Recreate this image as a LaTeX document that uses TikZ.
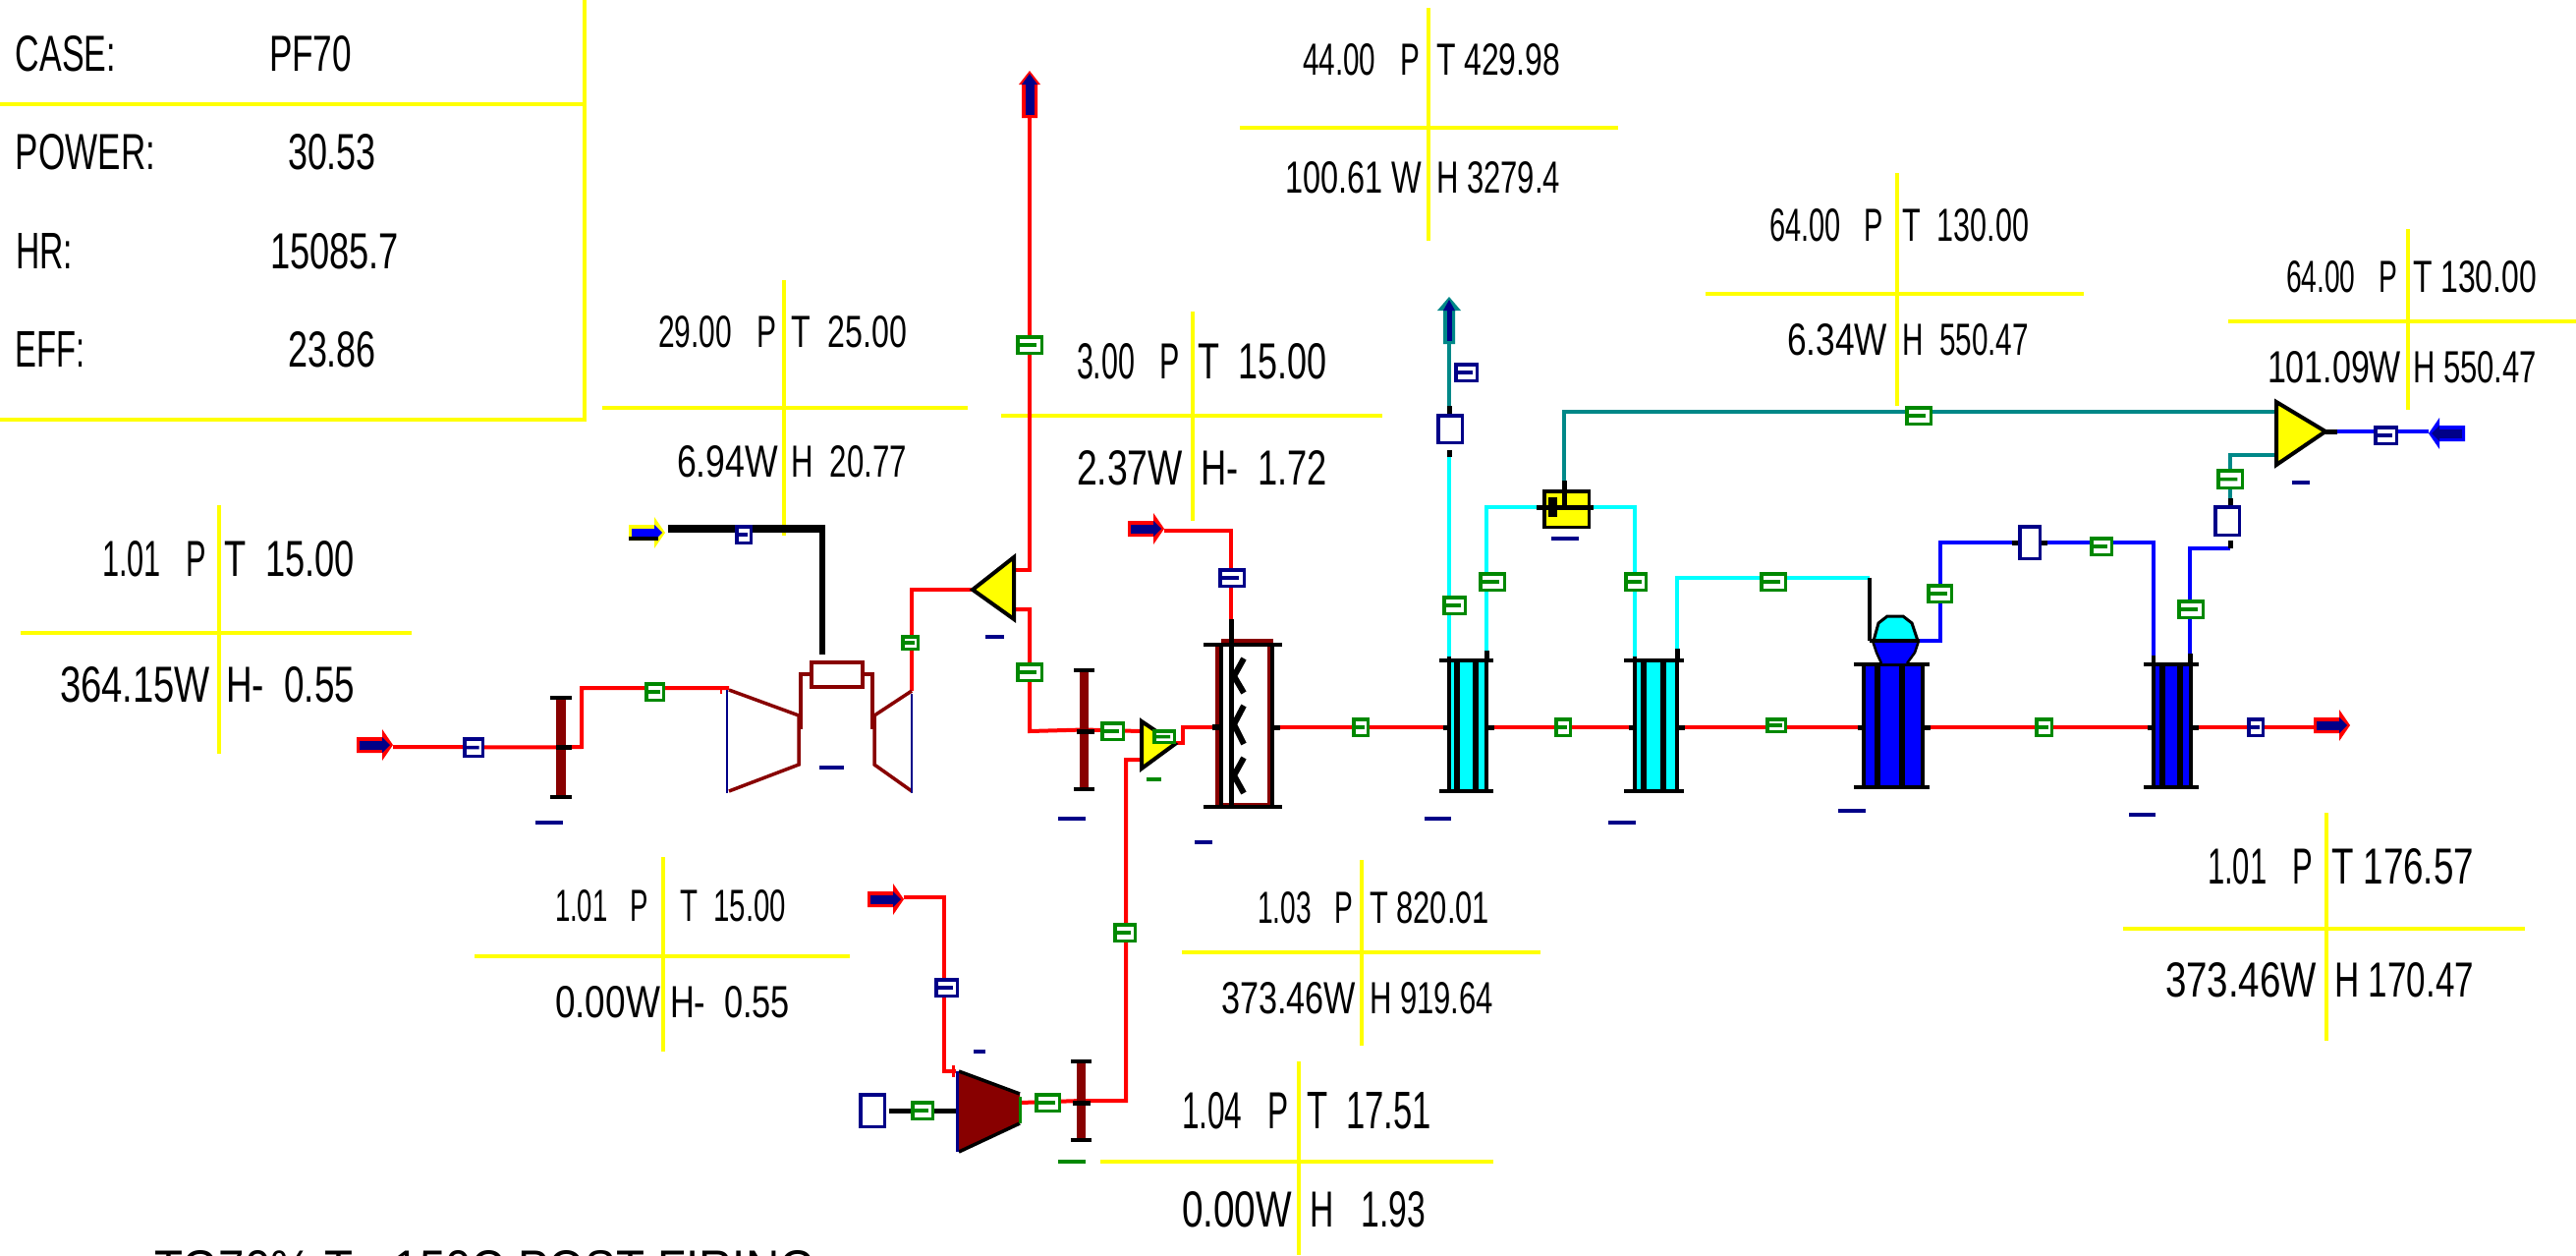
\documentclass[tikz,border=0pt]{standalone}
\usepackage{fontspec}
\setmainfont{Liberation Sans}
\usetikzlibrary{calc}
\definecolor{hred}{RGB}{255,0,0}
\definecolor{hdark}{RGB}{136,0,0}
\definecolor{hnavy}{RGB}{0,0,136}
\definecolor{hgreen}{RGB}{0,136,0}
\definecolor{hteal}{RGB}{0,136,136}
\definecolor{hcyan}{RGB}{0,255,255}
\definecolor{hblue}{RGB}{0,0,255}
\definecolor{hyellow}{RGB}{255,255,0}
\pgfdeclarelayer{background}
\pgfsetlayers{background,main}
\tikzset{
  rs/.style={draw=hred,line width=4pt},
  bs/.style={draw=hblue,line width=4pt},
  cs/.style={draw=hcyan,line width=4pt},
  ts/.style={draw=hteal,line width=4pt},
  ks/.style={draw=black,line width=5pt},
  xh/.style={draw=hyellow,line width=4pt},
  xv/.style={draw=hyellow,line width=3.5pt},
  bx/.style={inner sep=0pt,outer sep=0pt},
  tagbox/.style={bx,fill=white,line width=3.5pt},
  valvebox/.style={bx,fill=white,draw=hnavy,line width=3.5pt},
  dk/.style={draw=hdark,line width=3.5pt},
  blk/.style={draw=black,line width=3.5pt},
  thk/.style={draw=black,line width=6pt},
  tri/.style={fill=hyellow,draw=black,line width=4pt,line join=miter},
}
% outlined box given its outer edges
\newcommand\oboxat[6]{\pgfmathsetmacro\myw{(#5)-(#3)-3.5}\pgfmathsetmacro\myh{(#6)-(#4)-3.5}%
  \pgfmathsetmacro\myx{(#3+#5)/2}\pgfmathsetmacro\myy{(#4+#6)/2}%
  \node[#1,minimum width=\myw pt,minimum height=\myh pt] (#2) at (\myx,\myy) {};}
% borderless box
\newcommand\fboxat[6]{\pgfmathsetmacro\myw{(#5)-(#3)}\pgfmathsetmacro\myh{(#6)-(#4)}%
  \pgfmathsetmacro\myx{(#3+#5)/2}\pgfmathsetmacro\myy{(#4+#6)/2}%
  \node[bx,#1,minimum width=\myw pt,minimum height=\myh pt] (#2) at (\myx,\myy) {};}
% stream tag
\newcommand\mk[6]{\oboxat{tagbox,draw=#6}{#1}{#2}{#3}{#4}{#5}%
  \draw[line width=3.5pt,#6] (#1.west) -- ($(#1.west)!0.8!(#1.east)$);}
% short dash under equipment
\newcommand\dsh[5]{\fboxat{fill=#5}{#1}{#2}{#4-2}{#3}{#4+2}}
% text fitted to its extent
\newcommand\tx[6]{\pgfmathsetmacro\myw{#4-#2}\pgfmathsetmacro\myh{#5-#3}%
  \node[bx,anchor=north west] (#1) at (#2,#3) {\resizebox{\myw pt}{\myh pt}{#6}};}
% crosshair of a stream table
\newcommand\cross[6]{\draw[xh] (#1,#3) -- (#2,#3); \draw[xv] (#4,#5) -- (#4,#6);}
% flow arrow
\def\faL{37}\def\faH{8}\def\faF{16}\def\faD{11}
\newcommand\fa[7]{\begin{scope}[shift={(#2,#3)},rotate=#4]
  \coordinate (#1) at (0,0); \coordinate (#1t) at (-\faL,0);
  \fill[#5] (-\faL,#7-\faH) -- (-\faD,#7-\faH) -- (-\faD,#7-\faF) -- (0,#7) -- (-\faD,#7+\faF) -- (-\faD,#7+\faH) -- (-\faL,#7+\faH) -- cycle;
  \fill[#6] (-\faL+3,#7-\faH+3.5) rectangle (-\faD+3,#7+\faH-3.5);
  \fill[#6] (-\faD,#7-\faH) -- (-3,#7) -- (-\faD,#7+\faH) -- cycle;
  \end{scope}}
% filter bar
\newcommand\filt[5]{\fboxat{fill=hdark}{#1}{#2}{#4}{#3}{#5}%
  \draw[blk,line width=4pt] ($(#1.north west)+(-6,0)$) -- ($(#1.north east)+(6,0)$);
  \draw[blk,line width=4pt] ($(#1.south west)+(-6,0)$) -- ($(#1.south east)+(6,0)$);}
% heat exchanger
\def\hxfill{hcyan}
\newcommand\hx[9]{\fboxat{fill=\hxfill}{#1}{#6}{#4}{#7}{#5}%
  \coordinate (#1l) at (#6-6,740); \coordinate (#1r) at (#7+8,740);
  \draw[blk] (#6,#4) -- (#6,#5); \draw[blk] (#7,#4) -- (#7,#5);
  \draw[thk] (#8,#4) -- (#8,#5); \draw[thk] (#9,#4) -- (#9,#5);
  \draw[blk,line width=4.5pt] (#2,#4) -- (#3,#4); \draw[blk,line width=4.5pt] (#2,#5) -- (#3,#5);
  \draw[ks] (#6-6,740) -- (#6,740); \draw[ks] (#7,740) -- (#7+8,740);}
\begin{document}
\begin{tikzpicture}[x=1pt,y=-1pt]
\useasboundingbox (0,0) rectangle (2622,1277);

% ---- summary table text
\tx{tc1}{16}{36}{118}{72}{CASE:}
\tx{tc2}{274}{36}{358}{72}{PF70}
\tx{tp1}{16}{136}{158}{172}{POWER:}
\tx{tp2}{293}{136}{383}{172}{30.53}
\tx{th1}{16}{237}{74}{273}{HR:}
\tx{th2}{275}{237}{406}{273}{15085.7}
\tx{te1}{16}{337}{87}{373}{EFF:}
\tx{te2}{293}{337}{383}{373}{23.86}

% ---- stream tables
\tx{a1}{104}{550}{210}{586}{1.01~~~P}
\tx{a2}{228}{550}{361}{586}{T~~15.00}
\tx{a3}{61}{678}{214}{714}{364.15W}
\tx{a4}{230}{678}{361}{714}{H-~~0.55}
\tx{b1}{670}{321}{790}{353}{29.00~~~P}
\tx{b2}{805}{321}{923}{353}{T~~25.00}
\tx{b3}{689}{453}{792}{485}{6.94W}
\tx{b4}{805}{453}{923}{485}{H~~20.77}
\tx{c1}{1096}{349}{1201}{385}{3.00~~~P}
\tx{c2}{1219}{349}{1351}{385}{T~~15.00}
\tx{c3}{1096}{458}{1204}{493}{2.37W}
\tx{c4}{1222}{458}{1351}{493}{H-~~1.72}
\tx{e1}{1326}{44}{1445}{76}{44.00~~~P}
\tx{e2}{1462}{44}{1588}{76}{T 429.98}
\tx{e3}{1308}{164}{1447}{196}{100.61 W}
\tx{e4}{1462}{164}{1588}{196}{H 3279.4}
\tx{f1}{1801}{212}{1917}{245}{64.00~~~P}
\tx{f2}{1936}{212}{2065}{245}{T~~130.00}
\tx{f3}{1819}{329}{1921}{361}{6.34W}
\tx{f4}{1936}{329}{2065}{361}{H~~550.47}
\tx{g1}{2327}{265}{2440}{297}{64.00~~~P}
\tx{g2}{2456}{265}{2582}{297}{T 130.00}
\tx{g3}{2308}{357}{2444}{389}{101.09W}
\tx{g4}{2456}{357}{2582}{389}{H 550.47}
\tx{h1}{565}{905}{660}{937}{1.01~~~P}
\tx{h2}{692}{905}{800}{937}{T~~15.00}
\tx{h3}{565}{1003}{672}{1035}{0.00W}
\tx{h4}{682}{1003}{804}{1035}{H-~~0.55}
\tx{i1}{1280}{907}{1377}{939}{1.03~~~P}
\tx{i2}{1394}{907}{1516}{939}{T 820.01}
\tx{i3}{1243}{999}{1380}{1031}{373.46W}
\tx{i4}{1394}{999}{1520}{1031}{H 919.64}
\tx{j1}{1203}{1111}{1312}{1148}{1.04~~~P}
\tx{j2}{1330}{1111}{1457}{1148}{T~~17.51}
\tx{j3}{1203}{1212}{1315}{1248}{0.00W}
\tx{j4}{1333}{1212}{1451}{1248}{H~~~1.93}
\tx{k1}{2247}{863}{2354}{899}{1.01~~~P}
\tx{k2}{2373}{863}{2518}{899}{T 176.57}
\tx{k3}{2204}{979}{2358}{1014}{373.46W}
\tx{k4}{2376}{979}{2518}{1014}{H 170.47}
\begin{scope}
\clip (0,0) rectangle (2622,1277);
\tx{note}{157}{1272}{830}{1308}{TG70\%  T= 150C POST FIRING}
\end{scope}

% ---- arrows
\fa{ain}{400}{760}{0}{hred}{hnavy}{-2}
\fa{asteam}{677}{538}{0}{hyellow}{hblue}{4}
\fill[black] (640,546) rectangle (670,550);
\fa{aair}{1185}{540}{0}{hred}{hnavy}{-2}
\fa{afuel}{920}{913}{0}{hred}{hnavy}{2}
\fa{aout}{2392}{740}{0}{hred}{hnavy}{-2}
\fa{afw}{2472}{439}{180}{hblue}{hnavy}{-2}
\def\faL{48}\def\faF{11}\def\faD{14}
\fa{atop}{1048}{72}{90}{hred}{hnavy}{0}
\def\faH{6}\def\faF{12}
\fa{asb}{1475}{302}{90}{hteal}{hnavy}{0}
\def\faL{37}\def\faH{8}\def\faF{16}\def\faD{11}

% ---- inlet filters
\filt{f1}{566}{576}{710}{811}
\filt{f2}{1099}{1108}{682}{803}
\filt{f3}{1096}{1105}{1080}{1160}
\draw[ks] (566,760) -- (582,760);
\draw[ks] (1096,744) -- (1114,744);
\draw[ks] (1092,1122) -- (1110,1122);

% ---- gas turbine
\coordinate (cin) at (742,700);
\coordinate (tout) at (928,703);
\node[bx,draw=hdark,line width=4pt,minimum width=52pt,minimum height=25pt] (shaft) at (851.5,686) {};
\draw[dk] (742,702) -- (813,728) -- (813,778) -- (742,805);
\draw[dk] (shaft.west) -- (815,686) -- (815,742);
\draw[dk] (shaft.east) -- (888,686) -- (888,742);
\draw[dk] (890,728) -- (928,703);
\draw[dk] (890,728) -- (890,778) -- (928,805);
\draw[draw=hnavy,line width=2.5pt] (740,702) -- (740,807);
\draw[draw=hnavy,line width=2.5pt] (928,706) -- (928,807);
\draw[draw=hred,line width=2.5pt] (734,700) -- (734,706);

% ---- splitter and mixers
\coordinate (s1t) at (990,600); \coordinate (s1u) at (1032,580); \coordinate (s1d) at (1032,620);
\draw[tri] (s1t) -- (1032,567) -- (1032,630) -- cycle;
\coordinate (m1a) at (1161,744); \coordinate (m1b) at (1161,773); \coordinate (m1o) at (1196,756);
\draw[tri] (1162,734) -- (1162,782) -- (1196,757) -- cycle;
\coordinate (m2a) at (2315,419); \coordinate (m2b) at (2315,463); \coordinate (m2o) at (2379,439);
\draw[tri] (2317,409) -- (2317,473) -- (2367,439) -- cycle;
\draw[ks] (2367,439) -- (m2o);

% ---- combustor
\coordinate (cbtop) at (1253,630); \coordinate (cbw) at (1234,740); \coordinate (cbe) at (1303,740);
\fboxat{fill=white}{comb}{1240}{652}{1295}{819}
\draw[dk] (1239,654) -- (1239,819) -- (1292,819) -- (1292,654);
\fill[hdark] (1243,650) rectangle (1296,656);
\draw[blk] (1243,656) -- (1243,821); \draw[blk] (1295,656) -- (1295,821);
\draw[blk,line width=4pt] (1225,656) -- (1305,656); \draw[blk,line width=4pt] (1225,821) -- (1305,821);
\draw[ks] (cbtop) -- (1253,821);
\draw[thk] (1266,670) -- (1256,688) -- (1266,705);
\draw[thk] (1266,718) -- (1256,737) -- (1266,757);
\draw[thk] (1266,771) -- (1256,789) -- (1266,807);
\draw[ks,line width=6pt] (cbw) -- (1242,740); \draw[ks] (1296,740) -- (cbe);

% ---- heat exchangers
\def\hxfill{hcyan}
\hx{hxa}{1465}{1520}{672}{805}{1475}{1513}{1483}{1502}
\hx{hxb}{1653}{1714}{672}{805}{1664}{1707}{1673}{1693}
\def\hxfill{hblue}
\hx{hxc}{1887}{1964}{676}{801}{1897}{1957}{1911}{1936}
\hx{hxd}{2182}{2238}{676}{801}{2192}{2230}{2201}{2219}
\coordinate (ap) at (1475,668); \coordinate (aq) at (1513,668);
\coordinate (bp) at (1664,668); \coordinate (bq) at (1707,663);
\coordinate (dp) at (2192,667); \coordinate (dq) at (2229,667);
\draw[blk] (ap) -- (1475,672); \draw[ks] (1513,662) -- (1513,672);
\draw[blk] (bp) -- (1664,672); \draw[ks] (1707,660) -- (1707,672);
\draw[blk] (dp) -- (2192,676); \draw[ks] (2229,665) -- (2229,676);

% ---- deaerator
\oboxat{bx,fill=hyellow,draw=black,line width=3.5pt}{dea}{1570}{498}{1619}{538}
\coordinate (dw) at (1564,516); \coordinate (de) at (1622,516); \coordinate (dn) at (1592,489);
\draw[ks] (dw) -- (de); \draw[ks] (dn) -- (1592,514);
\fill[black] (1576,506) rectangle (1585,526);

% ---- drum
\coordinate (drin) at (1903,588); \coordinate (drk) at (1903,652); \coordinate (dro) at (1954,652);
\fill[hblue] (1906,652) -- (1953,652) -- (1949,664) -- (1941,675) -- (1915,675) -- (1910,664) -- cycle;
\draw[black,line width=2.5pt] (1906,652) -- (1910,664) -- (1915,675);
\draw[black,line width=2.5pt] (1953,652) -- (1949,664) -- (1941,675);
\fill[hcyan] (1907,652) -- (1912,634) -- (1921,627) -- (1937,627) -- (1946,634) -- (1952,652) -- cycle;
\draw[black,line width=3pt] (1907,652) -- (1912,634) -- (1921,627) -- (1937,627) -- (1946,634) -- (1952,652);
\draw[blk,line width=4.5pt] (1903,652) -- (dro);

% ---- valves
\oboxat{valvebox}{vb1}{1462}{421}{1490}{452}
\oboxat{valvebox}{vb2}{2054}{534}{2078}{570}
\oboxat{valvebox}{vb3}{2253}{514}{2281}{546}
\oboxat{valvebox}{vb4}{874}{1112}{902}{1148}
\coordinate (v1s) at (1475,465); \coordinate (v1n) at (1475,413);
\coordinate (v2w) at (2048,552); \coordinate (v2e) at (2084,552);
\coordinate (v3s) at (2270,558); \coordinate (v3n) at (2270,507);
\coordinate (v4e) at (905,1130);
\draw[ks] (1475,465) -- (1475,458); \draw[ks] (1475,421) -- (v1n);
\draw[ks] (v2w) -- (2054,552); \draw[ks] (2078,552) -- (v2e);
\draw[ks] (v3s) -- (2270,550); \draw[ks] (2270,514) -- (v3n);

% ---- fuel compressor
\coordinate (c2a) at (973,1090); \coordinate (c2s) at (973,1130); \coordinate (c2o) at (1038,1122);
\fill[hdark] (976,1090) -- (1038,1113) -- (1038,1143) -- (976,1172) -- cycle;
\draw[blk] (976,1090) -- (1038,1113); \draw[blk] (976,1172) -- (1038,1143);
\draw[draw=hnavy,line width=3pt] (974,1090) -- (974,1172);
\draw[draw=hgreen,line width=3pt] (1038,1116) -- (1038,1143);
\draw[draw=hred,line width=3pt] (970,1084) -- (970,1096);

% ---- stream tags
\mk{t1}{656}{694}{677}{714}{hgreen}
\mk{t2}{471}{750}{493}{771}{hnavy}
\mk{t3}{748}{534}{766}{554}{hnavy}
\mk{t4}{917}{646}{936}{662}{hgreen}
\mk{t5}{1034}{341}{1062}{361}{hgreen}
\mk{t6}{1034}{674}{1062}{694}{hgreen}
\mk{t7}{1120}{734}{1145}{754}{hgreen}
\mk{t8}{1173}{742}{1197}{757}{hgreen}
\mk{t9}{1240}{578}{1268}{598}{hnavy}
\mk{t10}{1376}{730}{1394}{750}{hgreen}
\mk{t11}{1582}{730}{1600}{750}{hgreen}
\mk{t12}{1480}{369}{1505}{389}{hnavy}
\mk{t13}{1468}{606}{1493}{626}{hgreen}
\mk{t14}{1505}{582}{1533}{602}{hgreen}
\mk{t15}{1653}{582}{1677}{602}{hgreen}
\mk{t16}{1939}{413}{1967}{433}{hgreen}
\mk{t17}{1791}{582}{1819}{602}{hgreen}
\mk{t18}{1797}{730}{1819}{746}{hgreen}
\mk{t19}{2071}{730}{2090}{750}{hgreen}
\mk{t20}{1961}{594}{1988}{614}{hgreen}
\mk{t21}{2127}{546}{2151}{566}{hgreen}
\mk{t22}{2216}{610}{2244}{630}{hgreen}
\mk{t23}{2256}{477}{2284}{498}{hgreen}
\mk{t24}{2416}{433}{2441}{453}{hnavy}
\mk{t25}{2287}{730}{2305}{750}{hnavy}
\mk{t26}{1133}{939}{1157}{959}{hgreen}
\mk{t27}{951}{995}{976}{1015}{hnavy}
\mk{t28}{927}{1120}{951}{1140}{hgreen}
\mk{t29}{1053}{1112}{1080}{1132}{hgreen}

% ---- dashes
\dsh{d1}{545}{573}{837}{hnavy}
\dsh{d2}{834}{859}{781}{hnavy}
\dsh{d3}{1003}{1022}{648}{hnavy}
\dsh{d4}{1077}{1105}{833}{hnavy}
\dsh{d5}{1167}{1182}{793}{hgreen}
\dsh{d6}{1216}{1234}{857}{hnavy}
\dsh{d7}{1450}{1477}{833}{hnavy}
\dsh{d8}{1579}{1607}{548}{hnavy}
\dsh{d9}{1637}{1665}{837}{hnavy}
\dsh{d10}{1871}{1899}{825}{hnavy}
\dsh{d11}{2167}{2194}{829}{hnavy}
\dsh{d12}{2333}{2351}{491}{hnavy}
\dsh{d13}{991}{1003}{1070}{hnavy}
\dsh{d14}{1077}{1105}{1182}{hgreen}

\begin{pgfonlayer}{background}
\fill[white] (0,0) rectangle (2622,1277);
% summary frame
\draw[xh] (595,-3) -- (595,427) -- (-3,427);
\draw[xh] (-3,106) -- (595,106);
% crosshairs: x1 x2 yh xv y1 y2
\cross{21}{419}{644}{223}{514}{767}
\cross{613}{985}{415}{798}{285}{545}
\cross{1019}{1407}{423}{1214}{317}{530}
\cross{1262}{1647}{130}{1454}{8}{245}
\cross{1736}{2121}{299}{1931}{176}{413}
\cross{2268}{2622}{327}{2451}{233}{417}
\cross{483}{865}{973}{675}{872}{1070}
\cross{1203}{1568}{969}{1386}{875}{1064}
\cross{1120}{1520}{1182}{1322}{1080}{1277}
\cross{2161}{2570}{945}{2368}{827}{1059}

% air to gas turbine
\draw[rs] (ain) -- (f1) -- (592,760) |- (cin);
% steam injection
\draw[ks,line width=8pt] (680,538) -- (837,538);
\draw[ks,line width=5.5pt] (837,534) -- (837,666);
% exhaust bleed
\draw[rs] (tout) |- (s1t);
\draw[rs] (s1u) -| (atopt);
\draw[rs] (s1d) -| (1048,744) -- (f2) -- (m1a);
\draw[rs] (m1o) -| (1204,740) -- (cbw);
\draw[rs] (aair) -| (cbtop);
% fuel
\draw[rs] (afuel) -| (961,1090) -- (c2a);
\draw[rs] (c2o) -- (f3) -| (1146,773) -- (m1b);
\draw[ks] (v4e) -- (c2s);
% exhaust gas train
\draw[rs] (cbe) -- (hxal);
\draw[rs] (hxar) -- (hxbl);
\draw[rs] (hxbr) -- (hxcl);
\draw[rs] (hxcr) -- (hxdl);
\draw[rs] (hxdr) -- (aoutt);
% water and steam
\draw[cs] (ap) -- (v1s);
\draw[ts] (v1n) -- (asbt);
\draw[cs] (aq) |- (dw);
\draw[cs] (de) -| (bp);
\draw[ts] (dn) |- (m2a);
\draw[cs] (bq) |- (drin);
\draw[blk] (drin) -- (drk);
\draw[bs] (dro) -| (1975,552) -- (v2w);
\draw[bs] (v2e) -| (dp);
\draw[bs] (dq) |- (v3s);
\draw[ts] (v3n) |- (m2b);
\draw[bs] (m2o) -- (afw);
\end{pgfonlayer}
\end{tikzpicture}
\end{document}
